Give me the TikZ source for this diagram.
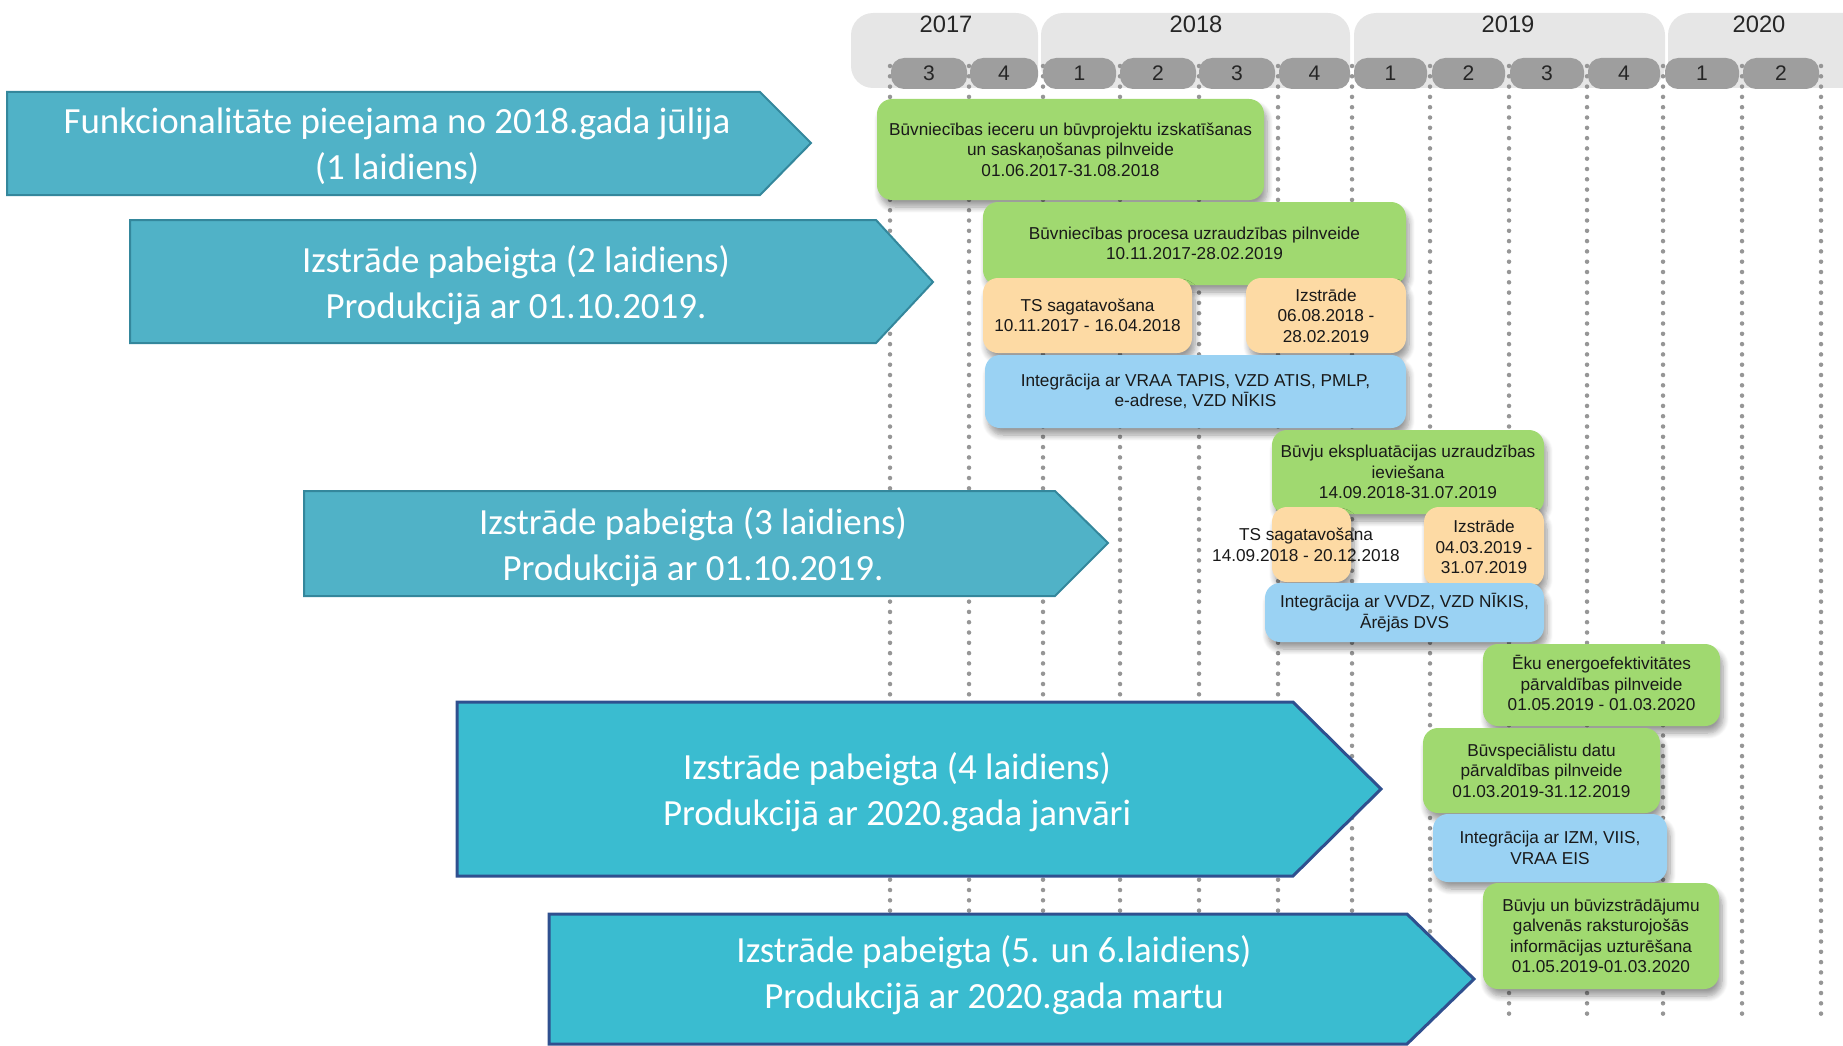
\documentclass[tikz,border=0pt]{standalone}
\usepackage{fontspec}
\setmainfont{Liberation Sans}
\newfontfamily\calibri{Carlito}
\usetikzlibrary{fit,shadows.blur}

\definecolor{yeargray}{RGB}{230,230,230}
\definecolor{pillgray}{RGB}{158,158,158}
\definecolor{dotgray}{RGB}{150,150,150}
\definecolor{taskgreen}{RGB}{160,217,112}
\definecolor{taskorange}{RGB}{253,218,164}
\definecolor{taskblue}{RGB}{154,210,243}
\definecolor{relteal}{RGB}{80,178,199}
\definecolor{reltealline}{RGB}{52,135,156}
\definecolor{relcyan}{RGB}{58,188,208}
\definecolor{relnavy}{RGB}{47,80,143}

\begin{document}
\begin{tikzpicture}[x=0.2mm,y=-0.2mm,
	yearbox/.style={fill=yeargray,rounded corners=4.4mm,inner sep=0},
	yearlabel/.style={font=\fontsize{13.5}{16}\selectfont,text=black!85},
	quarter/.style={fill=pillgray,rounded corners=2.6mm,inner sep=0},
	quarterlabel/.style={font=\fontsize{12}{14}\selectfont,text=black!85},
	gridline/.style={draw=dotgray,line width=0.9mm,dash pattern=on 0pt off 2.06mm,line cap=round},
	task/.style={rounded corners=3mm,inner sep=0,
		blur shadow={shadow xshift=0.6mm,shadow yshift=-1.4mm,shadow blur steps=8,shadow blur radius=1.2mm,shadow opacity=40}},
	greentask/.style={task,fill=taskgreen},
	orangetask/.style={task,fill=taskorange},
	bluetask/.style={task,fill=taskblue},
	tasktext/.style={align=center,inner sep=0,text=black!90,font=\fontsize{9.8}{11.6}\selectfont},
	release/.style={fill=relteal,draw=reltealline,line width=0.4mm},
	releasebig/.style={fill=relcyan,draw=relnavy,line width=0.6mm},
	reltext/.style={align=center,text=white,font=\calibri\fontsize{21}{26.2}\selectfont}]

	\useasboundingbox (0,0) rectangle (1843,1045);
	\clip (0,0) rectangle (1843,1045);

	% years
	\node[yearbox, fit={(851,13) (1038,88)}] (y2017) {};
	\node[yearbox, fit={(1041,13) (1350,88)}] (y2018) {};
	\node[yearbox, fit={(1354,13) (1665,88)}] (y2019) {};
	\node[yearbox, fit={(1668,13) (1880,88)}] (y2020) {};
	\node[yearlabel] (t2017) at (946,24) {2017};
	\node[yearlabel] (t2018) at (1196,24) {2018};
	\node[yearlabel] (t2019) at (1508,24) {2019};
	\node[yearlabel] (t2020) at (1759,24) {2020};

	% quarter lines
	\foreach \x in {890,969,1043,1120,1199,1278,1352,1430,1509,1587,1663,1742,1821}
		\draw[gridline] (\x,66) -- (\x,1016);

	% quarters
	\foreach \a/\b/\q [count=\i] in {891/967/3, 970/1038/4, 1043/1116/1, 1120/1196/2,
		1199/1275/3, 1279/1350/4, 1354/1427/1, 1432/1505/2, 1510/1584/3, 1588/1660/4,
		1665/1739/1, 1743/1819/2}
	{
		\node[quarter, fit={(\a,58) (\b,89)}] (q\i) {};
		\node[quarterlabel] (qt\i) at (q\i) {\q};
	}

	% 1 laidiens
	\node[greentask, fit={(877,99) (1264,200)}] (ieceres) {};
	\node[tasktext] (ieceres-t) at (ieceres) {Būvniecības ieceru un būvprojektu izskatīšanas\\un saskaņošanas pilnveide\\01.06.2017-31.08.2018};

	% 2 laidiens
	\node[greentask, fit={(983,202) (1406,285)}] (uzraudziba) {};
	\node[tasktext] (uzraudziba-t) at (uzraudziba) {Būvniecības procesa uzraudzības pilnveide\\10.11.2017-28.02.2019};
	\node[orangetask, fit={(983,278) (1192,353)}] (ts2) {};
	\node[tasktext] (ts2-t) at (ts2) {TS sagatavošana\\10.11.2017 - 16.04.2018};
	\node[orangetask, fit={(1246,278) (1406,353)}] (izstr2) {};
	\node[tasktext] (izstr2-t) at (izstr2) {Izstrāde\\06.08.2018 -\\28.02.2019};
	\node[bluetask, fit={(985,355) (1406,428)}] (integr2) {};
	\node[tasktext] (integr2-t) at (integr2) {Integrācija ar VRAA TAPIS, VZD ATIS, PMLP,\\e-adrese, VZD NĪKIS};

	% 3 laidiens
	\node[greentask, fit={(1272,430) (1544,514)}] (ekspl) {};
	\node[tasktext] (ekspl-t) at (ekspl) {Būvju ekspluatācijas uzraudzības\\ieviešana\\14.09.2018-31.07.2019};
	\node[orangetask, fit={(1272,507) (1351,582)}] (ts3) {};
	\node[tasktext] (ts3-t) at (1306,545) {TS sagatavošana\\14.09.2018 - 20.12.2018};
	\node[orangetask, fit={(1424,507) (1544,587)}] (izstr3) {};
	\node[tasktext] (izstr3-t) at (izstr3) {Izstrāde\\04.03.2019 -\\31.07.2019};
	\node[bluetask, fit={(1265,583) (1544,642)}] (integr3) {};
	\node[tasktext] (integr3-t) at (integr3) {Integrācija ar VVDZ, VZD NĪKIS,\\Ārējās DVS};

	% 4 laidiens
	\node[greentask, fit={(1483,644) (1720,726)}] (energo) {};
	\node[tasktext] (energo-t) at ([yshift=0.4mm]energo) {Ēku energoefektivitātes\\pārvaldības pilnveide\\01.05.2019 - 01.03.2020};
	\node[greentask, fit={(1423,728) (1660,813)}] (specialisti) {};
	\node[tasktext] (specialisti-t) at (specialisti) {Būvspeciālistu datu\\pārvaldības pilnveide\\01.03.2019-31.12.2019};
	\node[bluetask, fit={(1433,814) (1667,882)}] (integr4) {};
	\node[tasktext] (integr4-t) at (integr4) {Integrācija ar IZM, VIIS,\\VRAA EIS};

	% 5. un 6. laidiens
	\node[greentask, fit={(1483,883) (1719,989)}] (izstradajumi) {};
	\node[tasktext] (izstradajumi-t) at (izstradajumi) {Būvju un būvizstrādājumu\\galvenās raksturojošās\\informācijas uzturēšana\\01.05.2019-01.03.2020};

	% releases
	\draw[release] (7,92) -- (760,92) -- (811,143) -- (760,195) -- (7,195) -- cycle;
	\node[reltext] (rel1) at (397,146) {Funkcionalitāte pieejama no 2018.gada jūlija\\(1 laidiens)};

	\draw[release] (130,220) -- (876,220) -- (933,282) -- (876,343) -- (130,343) -- cycle;
	\node[reltext] (rel2) at (516,285) {Izstrāde pabeigta (2 laidiens)\\Produkcijā ar 01.10.2019.};

	\draw[release] (304,491) -- (1055,491) -- (1108,543) -- (1055,596) -- (304,596) -- cycle;
	\node[reltext] (rel3) at (693,547) {Izstrāde pabeigta (3 laidiens)\\Produkcijā ar 01.10.2019.};

	\draw[releasebig] (457,702) -- (1293,702) -- (1381,789) -- (1293,876) -- (457,876) -- cycle;
	\node[reltext] (rel4) at (897,792) {Izstrāde pabeigta (4 laidiens)\\Produkcijā ar 2020.gada janvāri};

	\draw[releasebig] (549,914) -- (1407,914) -- (1474,979) -- (1407,1044) -- (549,1044) -- cycle;
	\node[reltext] (rel5) at (994,975) {Izstrāde pabeigta (5. un 6.laidiens)\\Produkcijā ar 2020.gada martu};

\end{tikzpicture}
\end{document}
